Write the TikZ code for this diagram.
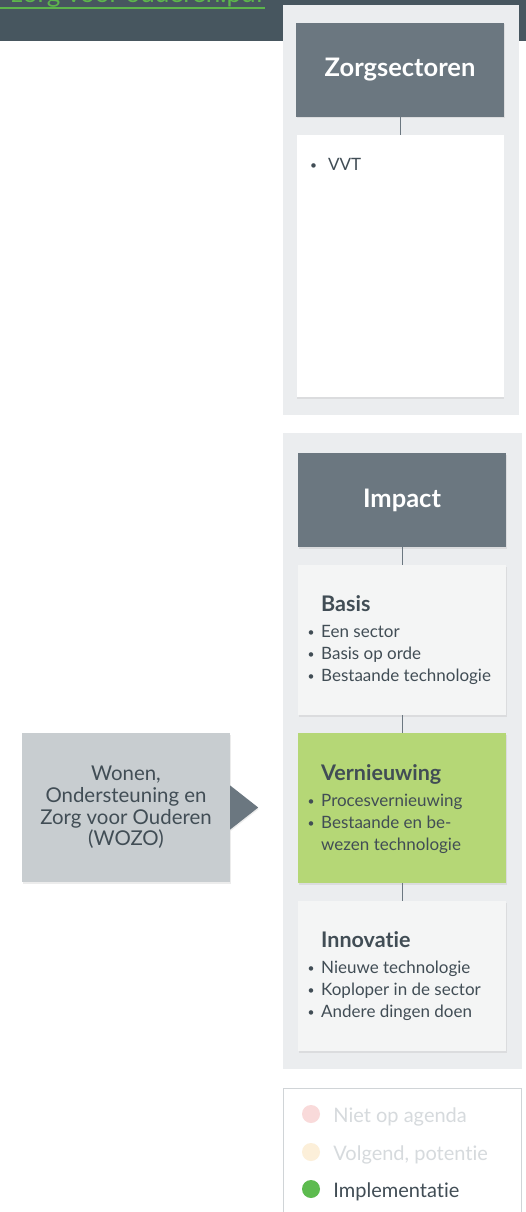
\documentclass[tikz,border=0pt]{standalone}
\usepackage{fontspec}
\setmainfont{Lato}[Ligatures=NoCommon]
\usepackage{xcolor}
\usepackage{tikz}
\usetikzlibrary{positioning,shadows}

\definecolor{band}{HTML}{47565F}
\definecolor{panel}{HTML}{EBEDEF}
\definecolor{head}{HTML}{6B7780}
\definecolor{soft}{HTML}{F4F5F5}
\definecolor{fresh}{HTML}{B5D776}
\definecolor{wozo}{HTML}{C8CDD0}
\definecolor{ink}{HTML}{414D55}
\definecolor{faded}{HTML}{D6DADD}
\definecolor{edge}{HTML}{D0D4D7}
\definecolor{pink}{HTML}{F9DADA}
\definecolor{cream}{HTML}{FCEFD9}
\definecolor{dotgreen}{HTML}{5DBB4F}
\definecolor{linkgreen}{HTML}{5DB54C}

\newcommand{\itm}{\makebox[11pt][l]{\hspace*{-2.5pt}\raisebox{1pt}{\fontsize{12}{12}\selectfont\textbullet}}}

\begin{document}
\begin{tikzpicture}[x=1pt,y=-1pt,inner sep=0pt,
  shade/.style={drop shadow={opacity=0.15,shadow xshift=0.5pt,shadow yshift=-1.5pt}},
  head/.style={shade,fill=head,minimum width=208pt,minimum height=94pt,text=white,font=\fontsize{25.5}{28}\selectfont\bfseries},
  card/.style={shade,fill=soft,minimum width=208pt,minimum height=150pt},
  txt/.style={anchor=north west,align=left,text=ink,font=\fontsize{17}{21.7}\selectfont},
  conn/.style={draw=head,line width=1pt},
  dot/.style={circle,minimum size=18pt},
  ltxt/.style={right=13pt of #1,yshift=-2.5pt,font=\fontsize{20}{24}\selectfont}]

\useasboundingbox (0,0) rectangle (526,1212);
\fill[white] (0,0) rectangle (526,1212);
\fill[band] (0,0) rectangle (526,41);
\node[anchor=base east,text=linkgreen,font=\fontsize{26}{30}\selectfont] (link) at (265,3) {zorg voor ouderen.pdf};
\draw[linkgreen,line width=2pt] (0,8.5) -- (265,8.5);

\fill[panel] (283,5) rectangle (519,415);
\fill[panel] (283,433) rectangle (522,1069);

\node[head] (Z) at (400,70) {Zorgsectoren};
\node[card,fill=white,minimum width=207pt,minimum height=262pt] (S) at (400,266) {};
\node[txt,anchor=base west] (St) at (310,170) {\makebox[18pt][l]{\raisebox{1pt}{\fontsize{12}{12}\selectfont\textbullet}}VVT};
\path (Z) edge[conn] (S);

\node[head] (I) at (402,500) {Impact};
\node[card] (B) at (402,640) {};
\node[card,fill=fresh] (V) at (402,808) {};
\node[card] (N) at (402,976) {};
\path (I) edge[conn] (B) (B) edge[conn] (V) (V) edge[conn] (N);

\node[txt] (Bt) at (310,595) {\hspace*{11pt}{\fontsize{21.5}{21.7}\selectfont\bfseries Basis}\\[5pt]
  \itm Een sector\\ \itm Basis op orde\\ \itm Bestaande technologie};
\node[txt] (Vt) at (310,764) {\hspace*{11pt}{\fontsize{21.5}{21.7}\selectfont\bfseries Vernieuwing}\\[5pt]
  \itm Procesvernieuwing\\ \itm Bestaande en be-\\ \hspace*{11pt}wezen technologie};
\node[txt] (Nt) at (310,931) {\hspace*{11pt}{\fontsize{21.5}{21.7}\selectfont\bfseries Innovatie}\\[5pt]
  \itm Nieuwe technologie\\ \itm Koploper in de sector\\ \itm Andere dingen doen};

\node[shade,fill=wozo,minimum width=208pt,minimum height=149pt,align=center,text=ink,
  font=\fontsize{20.4}{21.7}\selectfont] (W) at (126,807.5) {Wonen,\\Ondersteuning en\\Zorg voor Ouderen\\(WOZO)};
\fill[head] (W.east) ++(0,-22) -- ++(28,22) -- ++(-28,22) -- cycle;

\draw[edge,fill=white,line width=1pt] (283,1088) rectangle (521,1230);
\node[dot,fill=pink] (L1) at (311,1114) {};
\node[dot,fill=cream] (L2) at (311,1152) {};
\node[dot,fill=dotgreen] (L3) at (311,1189) {};
\node[ltxt=L1,text=faded] (L1t) {Niet op agenda};
\node[ltxt=L2,text=faded] (L2t) {Volgend, potentie};
\node[ltxt=L3,text=ink] (L3t) {Implementatie};

\end{tikzpicture}
\end{document}
